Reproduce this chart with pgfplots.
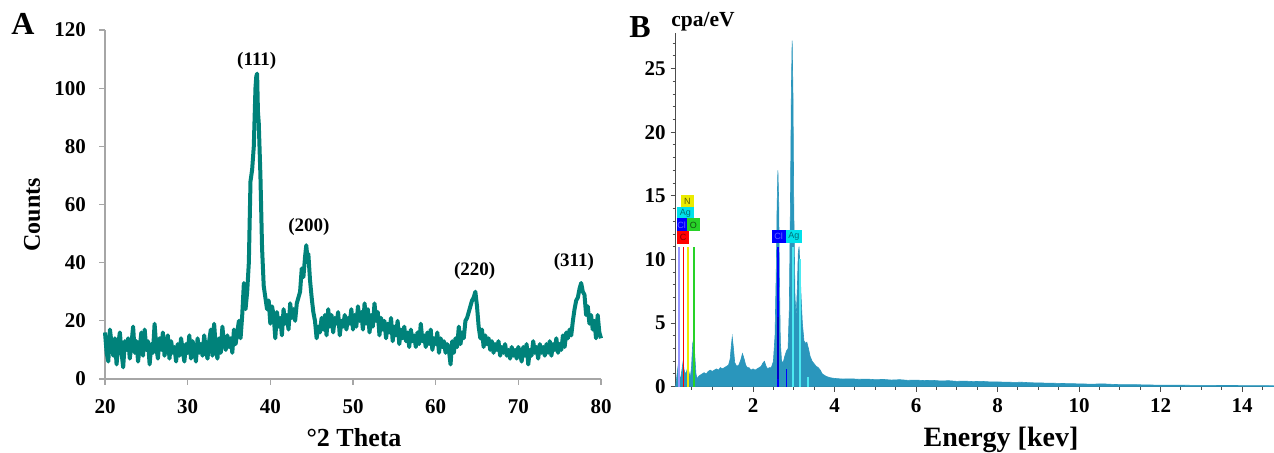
\documentclass[border=0pt]{standalone}
\usepackage{fontspec}
\setmainfont{Liberation Serif}
\setsansfont{Liberation Sans}
\usepackage{pgfplots}
\pgfplotsset{compat=1.18}

\definecolor{xrd}{RGB}{0,130,122}
\definecolor{eds}{RGB}{42,150,188}
\definecolor{lav}{RGB}{150,150,255}
\definecolor{oxy}{RGB}{40,210,40}
\definecolor{nyel}{RGB}{235,235,0}
\definecolor{agcy}{RGB}{0,225,235}

\begin{document}
\begin{tikzpicture}[font=\bfseries]
\path[use as bounding box] (0,0) rectangle (637pt,226.5pt);

% ---- panel A: XRD pattern
\begin{axis}[
    at={(52.5pt,37pt)}, anchor=south west, scale only axis,
    width=248pt, height=174.5pt,
    xmin=20, xmax=80, ymin=0, ymax=120,
    axis x line*=bottom, axis y line*=left,
    axis line style={gray!70, line width=0.6pt},
    xtick={20,30,...,80}, ytick={0,20,...,120},
    tick style={gray!70, line width=0.6pt},
    tick align=outside, major tick length=3pt,
    ticklabel style={font=\fontsize{10.5}{12}\selectfont\bfseries},
    xticklabel style={yshift=-3.5pt},
    yticklabel style={xshift=-3pt},
    /pgf/number format/assume math mode=true,
    clip=false,
]
\addplot[xrd, line width=2pt, line join=round] coordinates {
(20.0,16) (20.2,9) (20.4,6) (20.6,17) (20.8,12) (21.0,8) (21.2,14) (21.4,5) (21.6,12) (21.8,16)
(22.0,9) (22.2,4) (22.4,13) (22.6,10) (22.8,14) (23.0,7) (23.2,12) (23.4,18) (23.6,9) (23.8,13)
(24.0,6) (24.2,11) (24.4,16) (24.6,8) (24.8,17) (25.0,10) (25.2,13) (25.4,5) (25.6,12) (25.8,9)
(26.0,19) (26.2,11) (26.4,7) (26.6,14) (26.8,10) (27.0,16) (27.2,8) (27.4,12) (27.6,15) (27.8,7)
(28.0,13) (28.2,9) (28.4,11) (28.6,6) (28.8,12) (29.0,8) (29.2,14) (29.4,10) (29.6,6) (29.8,12)
(30.0,9) (30.2,15) (30.4,7) (30.6,13) (30.8,10) (31.0,6) (31.2,14) (31.4,9) (31.6,12) (31.8,8)
(32.0,15) (32.2,10) (32.4,7) (32.6,13) (32.8,17) (33.0,8) (33.2,19) (33.4,11) (33.6,7) (33.8,14)
(34.0,9) (34.2,18) (34.4,12) (34.6,10) (34.8,15) (35.0,11) (35.2,14) (35.4,9) (35.6,17) (35.8,12)
(36.0,16) (36.2,20) (36.4,14) (36.6,22) (36.8,33) (37.0,24) (37.2,30) (37.4,40) (37.6,68) (37.8,72)
(38.0,80) (38.2,100) (38.3,104) (38.4,105) (38.5,92) (38.6,88) (38.8,70) (39.0,45) (39.2,32) (39.4,28)
(39.6,24) (39.8,27) (40.0,19) (40.2,25) (40.4,22) (40.6,14) (40.8,23) (41.0,18) (41.2,21) (41.4,15)
(41.6,24) (41.8,19) (42.0,22) (42.2,17) (42.4,26) (42.6,21) (42.8,24) (43.0,20) (43.2,26) (43.4,28)
(43.6,30) (43.8,38) (44.0,35) (44.2,42) (44.35,46) (44.5,41) (44.6,43) (44.8,34) (45.0,28) (45.2,23)
(45.4,20) (45.6,14) (45.8,18) (46.0,16) (46.2,21) (46.4,17) (46.6,22) (46.8,15) (47.0,24) (47.2,18)
(47.4,22) (47.6,16) (47.8,21) (48.0,19) (48.2,23) (48.4,15) (48.6,20) (48.8,18) (49.0,22) (49.2,17)
(49.4,21) (49.6,19) (49.8,24) (50.0,17) (50.2,22) (50.4,18) (50.6,25) (50.8,20) (51.0,23) (51.2,17)
(51.4,26) (51.6,19) (51.8,24) (52.0,16) (52.2,22) (52.4,18) (52.6,26) (52.8,20) (53.0,23) (53.2,15)
(53.4,21) (53.6,17) (53.8,20) (54.0,14) (54.2,19) (54.4,16) (54.6,21) (54.8,13) (55.0,18) (55.2,15)
(55.4,20) (55.6,12) (55.8,17) (56.0,14) (56.2,18) (56.4,13) (56.6,16) (56.8,11) (57.0,17) (57.2,13)
(57.4,15) (57.6,11) (57.8,16) (58.0,12) (58.2,19) (58.4,13) (58.6,15) (58.8,11) (59.0,16) (59.2,12)
(59.4,17) (59.6,10) (59.8,14) (60.0,12) (60.2,16) (60.4,9) (60.6,14) (60.8,11) (61.0,13) (61.2,9)
(61.4,12) (61.6,10) (61.8,5) (62.0,13) (62.2,9) (62.4,14) (62.6,11) (62.8,18) (63.0,12) (63.2,16)
(63.4,14) (63.6,20) (63.8,21) (64.0,23) (64.2,25) (64.4,27) (64.6,28) (64.8,30) (65.0,25) (65.2,18)
(65.4,14) (65.6,17) (65.8,11) (66.0,15) (66.2,12) (66.4,14) (66.6,10) (66.8,13) (67.0,9) (67.2,12)
(67.4,10) (67.6,13) (67.8,8) (68.0,11) (68.2,9) (68.4,12) (68.6,8) (68.8,10) (69.0,7) (69.2,11)
(69.4,8) (69.6,10) (69.8,7) (70.0,11) (70.2,9) (70.4,6) (70.6,11) (70.8,8) (71.0,12) (71.2,5)
(71.4,10) (71.6,8) (71.8,13) (72.0,9) (72.2,11) (72.4,7) (72.6,12) (72.8,9) (73.0,11) (73.2,8)
(73.4,12) (73.6,9) (73.8,13) (74.0,8) (74.2,12) (74.4,10) (74.6,14) (74.8,9) (75.0,12) (75.2,10)
(75.4,15) (75.6,11) (75.8,16) (76.0,14) (76.2,17) (76.4,15) (76.6,20) (76.8,24) (77.0,27) (77.2,28)
(77.4,31) (77.6,33) (77.8,30) (78.0,29) (78.2,22) (78.4,25) (78.6,19) (78.8,22) (79.0,17) (79.2,20)
(79.4,14) (79.6,22) (79.8,16) (80.0,14)
};
\node[font=\fontsize{9.5}{11}\selectfont\bfseries] at (axis cs:38.36,109.2) {(111)};
\node[font=\fontsize{9.5}{11}\selectfont\bfseries] at (axis cs:44.67,52.3) {(200)};
\node[font=\fontsize{9.5}{11}\selectfont\bfseries] at (axis cs:64.72,37.0) {(220)};
\node[font=\fontsize{9.5}{11}\selectfont\bfseries] at (axis cs:76.73,40.1) {(311)};
\end{axis}

\node[font=\fontsize{16}{18}\selectfont\bfseries] at (11.5pt,214.5pt) {A};
\node[font=\fontsize{12}{14}\selectfont\bfseries, rotate=90] at (16pt,119pt) {Counts};
\node[font=\fontsize{13}{15}\selectfont\bfseries] at (177pt,7.5pt) {°2 Theta};

% ---- panel B: EDS spectrum
\begin{axis}[
    at={(337.8pt,33.15pt)}, anchor=south west, scale only axis,
    width=299.1pt, height=176.85pt,
    xmin=0.1, xmax=14.78, ymin=0, ymax=27.8,
    axis x line*=bottom, axis y line*=left,
    axis line style={black!70, line width=0.6pt},
    xtick={2,4,...,14}, ytick={0,5,...,25},
    minor xtick={0.5,1,...,14.5}, minor ytick={1,2,...,27},
    tick style={black!70, line width=0.5pt},
    tick align=outside, major tick length=2.5pt, minor tick length=1.5pt,
    ticklabel style={font=\fontsize{10.5}{12}\selectfont\bfseries},
    yticklabel style={xshift=1pt},
    /pgf/number format/assume math mode=true,
    clip=false,
]
\addplot[fill=eds, draw=eds, line width=0.3pt] coordinates {
(0.10,0) (0.13,0.8) (0.16,1.6) (0.19,0.9) (0.22,0.6) (0.25,1.2) (0.28,1.9) (0.31,1.3) (0.34,1.0) (0.37,1.2)
(0.40,1.6) (0.43,1.1) (0.46,0.7) (0.49,1.5) (0.52,3.4) (0.545,3.8) (0.57,2.5) (0.60,1.0) (0.63,0.6) (0.66,0.8)
(0.70,0.9) (0.75,1.0) (0.80,1.1) (0.85,1.0) (0.90,1.2) (0.95,1.3) (1.00,1.2) (1.05,1.3) (1.10,1.4) (1.15,1.3)
(1.20,1.5) (1.25,1.4) (1.30,1.5) (1.35,1.6) (1.40,1.7) (1.44,2.2) (1.47,3.3) (1.49,3.9) (1.52,3.0) (1.55,1.9)
(1.60,1.6) (1.65,1.7) (1.70,2.1) (1.74,2.6) (1.78,2.2) (1.82,1.7) (1.86,1.5) (1.90,1.5) (1.95,1.3) (2.00,1.4)
(2.05,1.3) (2.10,1.4) (2.15,1.5) (2.20,1.6) (2.25,1.9) (2.28,2.0) (2.32,1.6) (2.36,1.4) (2.40,1.5) (2.45,1.5)
(2.50,2.0) (2.54,4.0) (2.57,9.0) (2.59,14.0) (2.61,17.0) (2.63,14.5) (2.65,8.0) (2.67,3.5) (2.70,2.0) (2.74,1.9)
(2.78,2.4) (2.82,2.8) (2.86,3.0) (2.89,6.0) (2.92,15.0) (2.94,23.0) (2.96,27.2) (2.98,23.0) (3.00,14.0) (3.03,7.0)
(3.06,5.5) (3.09,8.0) (3.11,10.5) (3.13,11.0) (3.15,9.5) (3.18,7.0) (3.21,5.0) (3.25,3.6) (3.29,3.4) (3.32,3.5)
(3.36,3.0) (3.40,2.4) (3.45,2.0) (3.50,1.8) (3.55,1.6) (3.60,1.5) (3.65,1.3) (3.70,1.0) (3.75,0.9) (3.80,0.8)
(3.90,0.7) (4.00,0.65) (4.2,0.6) (4.4,0.62) (4.6,0.58) (4.8,0.6) (5.0,0.55) (5.2,0.57) (5.4,0.52) (5.6,0.55)
(5.8,0.5) (6.0,0.52) (6.2,0.48) (6.4,0.5) (6.6,0.45) (6.8,0.47) (7.0,0.42) (7.2,0.44) (7.4,0.4) (7.6,0.42)
(7.8,0.38) (8.0,0.37) (8.2,0.36) (8.4,0.34) (8.6,0.35) (8.8,0.31) (9.0,0.3) (9.2,0.28) (9.4,0.27) (9.6,0.25)
(9.8,0.24) (10.0,0.22) (10.3,0.2) (10.6,0.22) (10.9,0.17) (11.2,0.16) (11.5,0.15) (11.8,0.13) (12.1,0.12) (12.4,0.12)
(12.7,0.11) (13.0,0.1) (13.3,0.1) (13.6,0.09) (13.9,0.09) (14.2,0.08) (14.5,0.08) (14.78,0.07)
} \closedcycle;
% element marker lines
\addplot[lav, line width=0.8pt] coordinates {(0.19,0) (0.19,11)};
\addplot[red, line width=0.8pt] coordinates {(0.29,0) (0.29,11)};
\addplot[nyel, line width=0.8pt] coordinates {(0.40,0) (0.40,11)};
\addplot[oxy, line width=0.8pt] coordinates {(0.545,0) (0.545,11)};
\addplot[blue, line width=0.9pt] coordinates {(2.62,0) (2.62,11)};
\addplot[blue!80!black, line width=1.1pt] coordinates {(2.62,0.6) (2.62,5.5)};
\addplot[blue, line width=0.7pt] coordinates {(2.82,0) (2.82,1.4)};
\addplot[agcy!70!white, line width=0.7pt] coordinates {(2.98,0) (2.98,11)};
\addplot[agcy!70!white, line width=0.7pt] coordinates {(3.15,0) (3.15,10)};
\addplot[agcy!70!white, line width=0.7pt] coordinates {(3.35,0) (3.35,0.8)};
% element labels
\tikzset{el/.style={inner sep=0pt, minimum height=6.5pt, minimum width=6.5pt,
    font=\fontsize{4.5}{5}\selectfont\sffamily\mdseries}}
\node[el, fill=nyel, text=black!60!nyel] at (axis cs:0.39,14.55) {N};
\node[el, fill=agcy, text=black!50!agcy, minimum width=8.5pt] at (axis cs:0.34,13.63) {Ag};
\node[el, fill=blue, text=blue!60!white, minimum width=5pt] at (axis cs:0.25,12.71) {Cl};
\node[el, fill=oxy, text=black!60!oxy] at (axis cs:0.535,12.71) {O};
\node[el, fill=red, text=red!50!black, minimum width=6pt] at (axis cs:0.287,11.73) {C};
\node[el, fill=blue, text=blue!60!white, minimum width=7pt] at (axis cs:2.63,11.79) {Cl};
\node[el, fill=agcy, text=black!50!agcy, minimum width=8pt] at (axis cs:3.0,11.79) {Ag};
\end{axis}

\node[font=\fontsize{16}{18}\selectfont\bfseries] at (320pt,212.75pt) {B};
\node[font=\fontsize{10.75}{12}\selectfont\bfseries] at (351.5pt,215.5pt) {cpa/eV};
\node[font=\fontsize{14}{16}\selectfont\bfseries] at (500.5pt,6.5pt) {Energy [kev]};
\end{tikzpicture}
\end{document}
